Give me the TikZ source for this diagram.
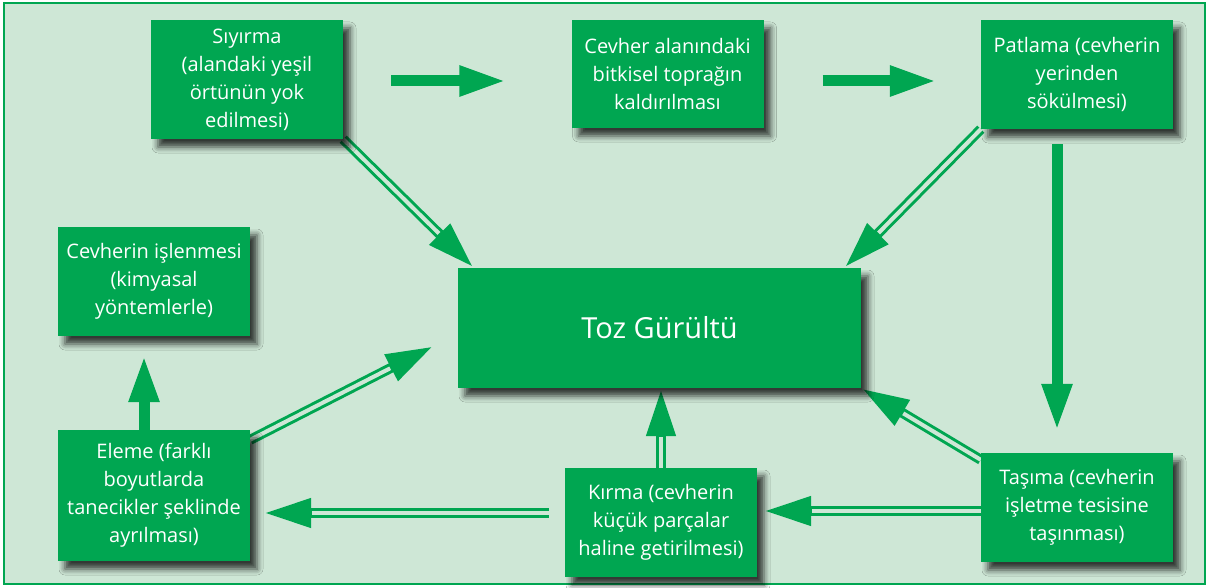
\documentclass[tikz,border=0pt]{standalone}
\usepackage{fontspec}
\setmainfont{Open Sans}
\usepackage{tikz}
\usetikzlibrary{positioning,arrows.meta,calc,backgrounds,shadows.blur}
\definecolor{yesil}{HTML}{00A651}
\definecolor{zemin}{HTML}{CEE7D6}
\tikzset{
  kutu/.style={fill=yesil,text=white,align=center,inner sep=0pt,minimum width=192pt,minimum height=109pt,font=\fontsize{20}{28}\selectfont,
    blur shadow={shadow xshift=7pt,shadow yshift=-8pt,shadow blur radius=6pt,shadow opacity=75}},
  kalin/.style={draw=yesil,line width=11pt,-{Triangle[length=47pt,width=28pt]}},
  cift/.style={draw=yesil,line width=10pt,-{Triangle[length=48pt,width=27pt]},shorten >=#1,
    postaction={draw=zemin,line width=4pt,shorten >=#1+49pt,-}},
  cift/.default=0pt,
}
\begin{document}
\begin{tikzpicture}[x=1pt,y=-1pt]
  \useasboundingbox (0,0) rectangle (1208,588);
  % kutular
  \node[kutu,minimum height=119pt] (siyirma) at (247,79.5) {S\i y\i rma\\(alandaki yeşil\\örtünün yok\\edilmesi)};
  \node[kutu,minimum height=108pt] (bitki) at (667.5,74) {Cevher alanındaki\\bitkisel toprağın\\kaldırılması};
  \node[kutu] (patlama) at (1077,74.5) {Patlama (cevherin\\yerinden\\sökülmesi)};
  \node[kutu] (islenme) at (154,281.5) {Cevherin işlenmesi\\(kimyasal\\yöntemlerle)};
  \node[kutu,minimum width=403pt,minimum height=120pt,font=\fontsize{29}{34}\selectfont] (toz) at (659.5,328) {Toz Gürültü};
  \node[kutu,minimum height=131pt] (eleme) at (154,495.5) {Eleme (farklı\\boyutlarda\\tanecikler şeklinde\\ayrılması)};
  \node[kutu] (kirma) at (661,522.5) {Kırma (cevherin\\küçük parçalar\\haline getirilmesi)};
  \node[kutu] (tasima) at (1077,507.5) {Taşıma (cevherin\\işletme tesisine\\taşınması)};
  \coordinate (elemeucu) at ($(toz.west)+(-24,18)$);
  \begin{scope}[on background layer]
    \fill[white] (0,0) rectangle (1208,588);
    \draw[yesil,line width=1.2pt,fill=zemin] (4,3) rectangle (1205,584);
    % dolu oklar
    \draw[kalin,shorten <=48pt,shorten >=65pt] ([yshift=-1.5pt]siyirma.east) -- ([yshift=-1.5pt]siyirma.east -| bitki.west);
    \draw[kalin,shorten <=59pt,shorten >=44pt] ([yshift=-7pt]bitki.east) -- ([yshift=-7pt]bitki.east -| patlama.west);
    \draw[kalin,shorten <=15pt,shorten >=22pt] ([xshift=-20pt]patlama.south) -- ([xshift=-20pt]patlama.south |- tasima.north);
    \draw[kalin,shorten >=19pt] ([xshift=-10pt]eleme.north) -- ([xshift=-10pt]eleme.north |- islenme.south);
    % cift cizgili oklar
    \draw[cift] (siyirma.south east) -- ([xshift=16pt]toz.north west);
    \draw[cift] (patlama.south west) -- ([xshift=-17pt]toz.north east);
    \draw[cift] ([yshift=-10pt]eleme.north east) -- (elemeucu);
    \draw[cift] ([yshift=-7pt]tasima.north west) -- (toz.south east);
    \draw[cift] (kirma.north) -- (kirma.north |- toz.south);
    \draw[cift=6pt] ([yshift=-3.5pt]tasima.west) -- ([yshift=-3.5pt]tasima.west -| kirma.east);
    \draw[cift=13pt,shorten <=16pt] ([yshift=9.5pt]kirma.west) -- ([yshift=9.5pt]kirma.west -| eleme.east);
  \end{scope}
\end{tikzpicture}
\end{document}
